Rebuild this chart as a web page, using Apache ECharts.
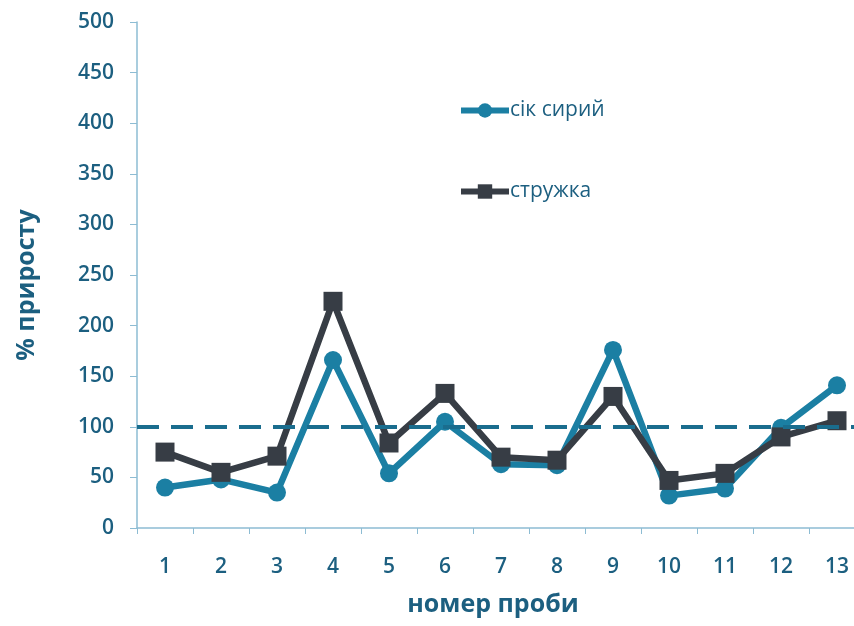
<!DOCTYPE html>
<html>
<head>
<meta charset="utf-8">
<script src="https://cdn.jsdelivr.net/npm/echarts@6/dist/echarts.min.js"></script>
<style>
  html, body { margin: 0; padding: 0; background: #fff; overflow: hidden; }
  /* the plot runs a little past the right edge of the page */
  #chart { width: 866px; height: 626px; }
</style>
</head>
<body>
<div id="chart"></div>
<script>
// Sample numbers along the category axis
const categories = ['1', '2', '3', '4', '5', '6', '7', '8', '9', '10', '11', '12', '13'];
// Growth percentage for raw juice
const juiceValues = [40, 48, 35, 166, 54, 105, 63, 62, 176, 32, 39, 99, 141];
// Growth percentage for shavings
const shavingsValues = [75, 55, 71, 224, 84, 133, 70, 67, 130, 47, 54, 90, 106];
// Control level
const baseline = 100;

const blue = '#1b7fa3';
const dark = '#373d45';
const textColor = '#1c5f80';
const axisColor = '#8dbcd3';
const font = 'Open Sans';

const chart = echarts.init(document.getElementById('chart'), null, { renderer: 'canvas' });
chart.setOption({
  animation: false,
  backgroundColor: '#ffffff',
  textStyle: { fontFamily: font },
  grid: { left: 137, right: 1, top: 22, bottom: 98, containLabel: false },
  legend: {
    orient: 'vertical',
    left: 458,
    top: 100,
    padding: 0,
    itemGap: 60,
    itemWidth: 48,
    itemHeight: 18,
    textStyle: { color: textColor, fontSize: 21, fontFamily: font, padding: [0, 0, 0, -4] },
    data: [
      { name: 'сік сирий', lineStyle: { width: 6 } },
      { name: 'стружка', lineStyle: { width: 6 } }
    ]
  },
  xAxis: {
    type: 'category',
    data: categories,
    boundaryGap: true,
    name: 'номер проби',
    nameLocation: 'middle',
    nameGap: 64,
    nameTextStyle: { color: textColor, fontSize: 25, fontWeight: 'bold', fontFamily: font, padding: [0, 16, 0, 0] },
    axisLine: { lineStyle: { color: axisColor, width: 1.5 } },
    axisTick: { show: true, alignWithLabel: false, length: 6, lineStyle: { color: axisColor } },
    axisLabel: { color: textColor, fontSize: 21, fontWeight: 600, margin: 29, fontFamily: font }
  },
  yAxis: {
    type: 'value',
    min: 0,
    max: 500,
    interval: 50,
    name: '% приросту',
    nameLocation: 'middle',
    nameGap: 98,
    nameRotate: 90,
    nameTextStyle: { color: textColor, fontSize: 25, fontWeight: 'bold', fontFamily: font, padding: [0, 0, 0, -20] },
    axisLine: { show: true, lineStyle: { color: axisColor, width: 1.5 } },
    axisTick: { show: true, length: 7, lineStyle: { color: axisColor } },
    splitLine: { show: false },
    axisLabel: { color: textColor, fontSize: 21, fontWeight: 600, margin: 23, fontFamily: font }
  },
  series: [
    {
      name: 'сік сирий',
      type: 'line',
      data: juiceValues,
      symbol: 'circle',
      symbolSize: 18,
      lineStyle: { color: blue, width: 6.5 },
      itemStyle: { color: blue },
      z: 3,
      markLine: {
        silent: true,
        symbol: 'none',
        label: { show: false },
        lineStyle: { color: '#1a6d8e', width: 4, type: [22, 12] },
        data: [{ yAxis: baseline }]
      }
    },
    {
      name: 'стружка',
      type: 'line',
      data: shavingsValues,
      symbol: 'rect',
      symbolSize: 19,
      lineStyle: { color: dark, width: 6.5 },
      itemStyle: { color: dark },
      z: 4
    }
  ]
});
</script>
</body>
</html>
